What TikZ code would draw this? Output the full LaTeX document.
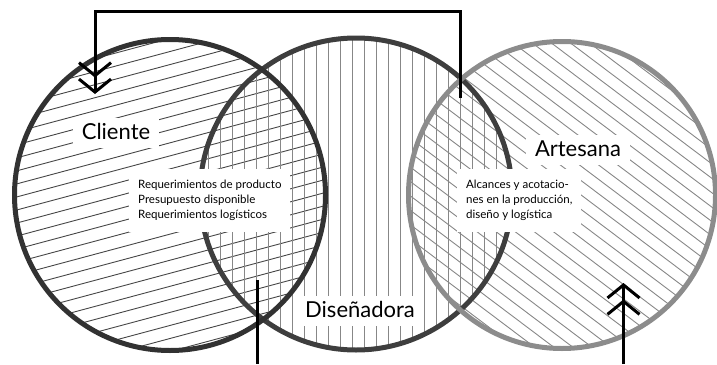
\documentclass[tikz,border=0pt]{standalone}
\usepackage{fontspec}
\setmainfont{Lato}
\usepackage{tikz}
\usetikzlibrary{arrows.meta}
\definecolor{clientedark}{RGB}{50,50,50}
\definecolor{disedark}{RGB}{62,62,62}
\definecolor{artegray}{RGB}{140,140,140}
\definecolor{hatchdark}{RGB}{70,70,70}
\definecolor{hatchgray}{RGB}{135,135,135}

\begin{document}
\begin{tikzpicture}[x=1pt, y=-1pt,
  chev/.style={-{Straight Barb[length=13pt,width=32pt,line width=3pt] Straight Barb[length=13pt,width=32pt,line width=3pt]}, line width=3pt, black},
  link/.style={line width=3pt, black},
  big/.style={fill=white, anchor=base, inner xsep=9pt, inner ysep=6pt, text height=15pt, text depth=3pt, font=\fontsize{22}{26}\selectfont},
  small/.style={fill=white, align=left, anchor=north west, inner xsep=9pt, inner ysep=11pt, font=\fontsize{11.5}{15}\selectfont}]
\useasboundingbox (0,0) rectangle (717,364);
\coordinate (c1) at (170,195);
\coordinate (c2) at (356,194);
\coordinate (c3) at (562,195);

\begin{scope}
\clip (c1) circle[radius=155];
\foreach \k in {-13,...,13}
  \draw[hatchdark, line width=0.9pt, shift={(c1)}, rotate=15] (-170,\k*12.6) -- (170,\k*12.6);
\end{scope}
\begin{scope}
\clip (c2) circle[radius=155];
\foreach \x in {208,220,...,508}
  \draw[hatchgray, line width=0.9pt] (\x,30) -- (\x,360);
\end{scope}
\begin{scope}
\clip (c3) circle[radius=152];
\foreach \k in {-14,...,14}
  \draw[hatchgray, line width=0.9pt, shift={(c3)}, rotate=-37] (-170,\k*11.5) -- (170,\k*11.5);
\end{scope}

\draw[disedark, line width=5pt] (c2) circle[radius=156];

\node[big] (clientelbl) at (116,139) {Cliente};
\node[big] (artesanalbl) at (578,156) {Artesana};
\node[big] (disenadoralbl) at (360,317) {Diseñadora};
\node[small] (clientereq) at (129,169) {Requerimientos de producto\\Presupuesto disponible\\Requerimientos logísticos};
\node[small] (artesanaalc) at (457,169) {Alcances y acotacio-\\nes en la producción,\\diseño y logística};

\draw[clientedark, line width=5pt] (c1) circle[radius=155.5];
\draw[artegray, line width=5pt] (c3) circle[radius=153.5];

\coordinate (topstart) at (460,98);
\coordinate (topbar) at (0,11);
\coordinate (topend) at (95,94);
\coordinate (lowstart) at (257,280);
\coordinate (lowend) at (257,364);
\coordinate (rightstart) at (623.5,364);
\coordinate (rightend) at (623.5,283);
\draw[chev] (topstart) -- (topstart |- topbar) -| (topend);
\draw[link] (lowstart) -- (lowend);
\draw[chev] (rightstart) -- (rightend);
\end{tikzpicture}
\end{document}
